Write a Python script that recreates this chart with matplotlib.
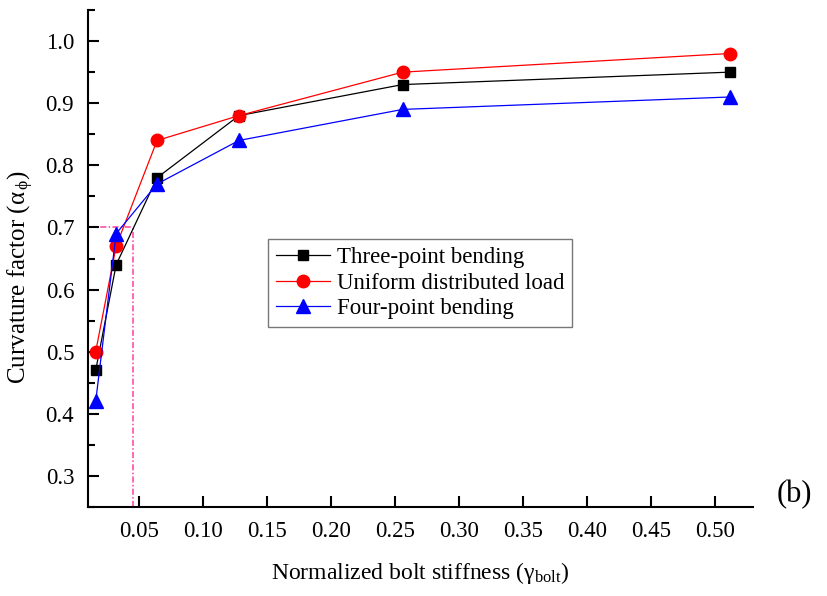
import matplotlib
matplotlib.use("Agg")
import matplotlib.pyplot as plt
from matplotlib.ticker import MultipleLocator

plt.rcParams['font.family'] = ['Liberation Serif', 'DejaVu Serif']
plt.rcParams['mathtext.fontset'] = 'custom'
plt.rcParams['mathtext.rm'] = 'Liberation Serif'
plt.rcParams['mathtext.it'] = 'Liberation Serif'

stiffness = [0.016, 0.032, 0.064, 0.128, 0.256, 0.512]
three_point = [0.47, 0.64, 0.78, 0.88, 0.93, 0.95]
uniform_load = [0.50, 0.67, 0.84, 0.88, 0.95, 0.98]
four_point = [0.42, 0.69, 0.77, 0.84, 0.89, 0.91]
ref_stiffness = 0.045
ref_alpha = 0.70

fig = plt.figure(figsize=(8.28, 5.96), dpi=100)
ax = fig.add_axes([0.1063, 0.1493, 0.8031, 0.8339])

ax.plot(stiffness, three_point, color='black', lw=0.9, marker='s', ms=7.5,
        label='Three-point bending')
ax.plot(stiffness, uniform_load, color='red', lw=0.9, marker='o', ms=9,
        label='Uniform distributed load')
ax.plot(stiffness, four_point, color='blue', lw=0.9, marker='^', ms=9.5,
        label='Four-point bending')

# reference guide lines
guide = dict(color='#ff3fa0', lw=1.1, dashes=(4, 1.5, 1, 1.5), zorder=1)
ax.plot([0.01, ref_stiffness], [ref_alpha, ref_alpha], **guide)
ax.plot([ref_stiffness, ref_stiffness], [0.25, ref_alpha], **guide)

ax.set_xlim(0.01, 0.53)
ax.set_ylim(0.25, 1.05)
ax.yaxis.set_minor_locator(MultipleLocator(0.05))
ax.set_xticks([0.05, 0.10, 0.15, 0.20, 0.25, 0.30, 0.35, 0.40, 0.45, 0.50])
ax.set_xticklabels(['0.05', '0.10', '0.15', '0.20', '0.25', '0.30', '0.35',
                    '0.40', '0.45', '0.50'])
ax.set_yticks([0.3, 0.4, 0.5, 0.6, 0.7, 0.8, 0.9, 1.0])
ax.set_yticklabels(['0.3', '0.4', '0.5', '0.6', '0.7', '0.8', '0.9', '1.0'])

for s in ['top', 'right']:
    ax.spines[s].set_visible(False)
for s in ['left', 'bottom']:
    ax.spines[s].set_linewidth(1.5)

ax.tick_params(axis='both', which='major', direction='in', length=8, width=1.5,
               labelsize=16.5, pad=10)
ax.tick_params(axis='both', which='minor', direction='in', length=5, width=1.5)

ax.set_xlabel(r'Normalized bolt stiffness ($\gamma_{\mathrm{bolt}}$)',
              fontsize=17, labelpad=13)
ax.set_ylabel(r'Curvature factor ($\alpha_{\,\phi}$)', fontsize=18)
ax.yaxis.set_label_coords(-0.078, 0.463)

leg = ax.legend(loc='upper left', bbox_to_anchor=(0.271, 0.539), fontsize=16.5,
                frameon=True, fancybox=False, edgecolor='#555555',
                handlelength=2.35, borderpad=0.35, labelspacing=0.2,
                handletextpad=0.3, borderaxespad=0)
leg.get_frame().set_linewidth(1.0)

fig.text(0.938, 0.17, '(b)', fontsize=22, ha='left', va='center')

fig.savefig('out.png', dpi=100)
